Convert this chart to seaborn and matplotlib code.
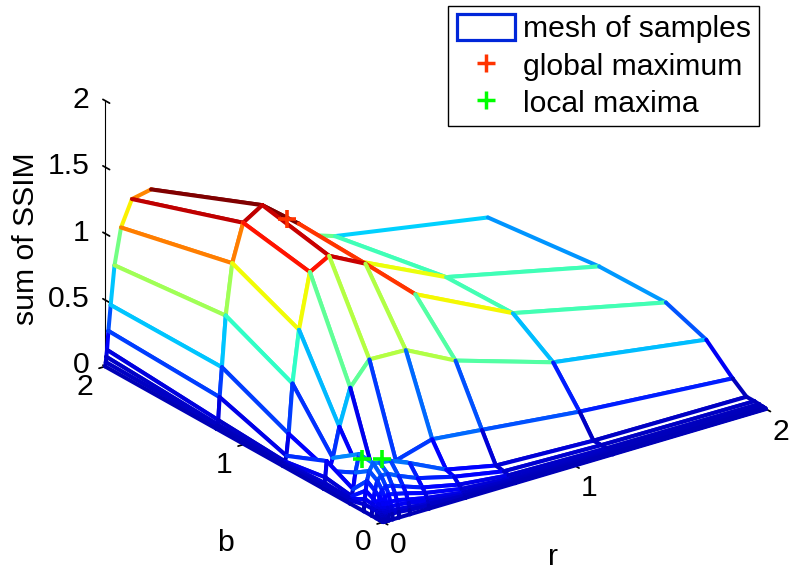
import numpy as np
import matplotlib
matplotlib.use('Agg')
import matplotlib.pyplot as plt
from matplotlib.lines import Line2D
from matplotlib.patches import Patch
from mpl_toolkits.mplot3d.art3d import Poly3DCollection
import seaborn as sns

# sample grid (same for r and b)
r_values = [0, .0035, .006, .01, .017, .029, .049, .083, .14, .24, .43, .69, 1.2, 2]
b_values = [0, .0035, .006, .01, .017, .029, .049, .083, .14, .24, .43, .72, 1.2, 2]

# sum of SSIM, one row per b value
z_b0000 = [0, 0, 0, 0, 0, 0, 0, 0, 0, 0, 0, 0, 0, 0]
z_b0035 = [0, .01, .02, .03, .035, .04, .04, .04, .03, .02, .008, .003, .002, .001]
z_b0060 = [0, .02, .03, .04, .05, .06, .06, .06, .05, .03, .012, .006, .003, .002]
z_b0100 = [0, .03, .04, .06, .07, .09, .09, .09, .08, .05, .02, .01, .005, .003]
z_b0170 = [0, .04, .05, .07, .09, .12, .12, .12, .10, .07, .03, .015, .008, .004]
z_b0290 = [0, .05, .06, .08, .12, .16, .17, .16, .14, .10, .05, .02, .01, .005]
z_b0490 = [0, .05, .07, .10, .15, .20, .22, .21, .18, .13, .07, .03, .015, .008]
z_b0830 = [0, .05, .08, .12, .18, .25, .28, .28, .24, .18, .11, .04, .02, .01]
z_b1400 = [0, .05, .09, .15, .22, .29, .34, .33, .32, .26, .13, .05, .02, .01]
z_b2400 = [0, .02, .03, .05, .10, .22, .35, .10, .08, .22, .30, .26, .18, .09]
z_b4300 = [0, .02, .04, .08, .20, .12, .21, .43, .70, .87, .86, .67, .44, .27]
z_b6900 = [0, .01, .02, .03, .07, .23, .60, .99, 1.40, 1.48, 1.34, 1.0, .64, .38]
z_b1180 = [0, .02, .03, .06, .23, .45, .83, 1.21, 1.49, 1.58, 1.36, .98, .63, .37]
z_b2000 = [0, .03, .07, .12, .26, .45, .74, 1.01, 1.20, 1.23, 1.05, .72, .47, .27]

# maxima found
global_r = [.24]
global_b = [1.02]
global_z = [1.58]
local_r = [.029, .083]
local_b = [.19, .12]
local_z = [.35, .37]

r_ticks = [0, 1, 2]
b_ticks = [0, 1, 2]
z_ticks = [0, .5, 1, 1.5, 2]
z_tick_labels = ['0', '0.5', '1', '1.5', '2']

sns.set_theme(style='white', rc={'text.color': 'black', 'axes.labelcolor': 'black',
                                 'xtick.color': 'black', 'ytick.color': 'black'})
plt.rcParams['font.family'] = ['Liberation Sans', 'DejaVu Sans']
fs = 21.7

zz = np.array([z_b0000, z_b0035, z_b0060, z_b0100, z_b0170, z_b0290, z_b0490,
               z_b0830, z_b1400, z_b2400, z_b4300, z_b6900, z_b1180, z_b2000])
jet = sns.mpl_palette('jet', 256)
zmax = 1.58


def z_color(z):
    return jet[min(int((z + .08) / (zmax + .08) * 255), 255)]


fig = plt.figure(figsize=(7.93, 5.71), dpi=100)
ax = fig.add_axes([-26.6 / 793, -146 / 571, 900 / 793, 900 / 571], projection='3d',
                  proj_type='ortho', computed_zorder=False)
ax.view_init(elev=24, azim=-126)
ax.set_box_aspect((1, 1, .615), zoom=.787)
ax.set_xlim(0, 2, view_margin=0)
ax.set_ylim(0, 2, view_margin=0)
ax.set_zlim(0, 2, view_margin=0)
ax.grid(False)
for axis in (ax.xaxis, ax.yaxis, ax.zaxis):
    axis.pane.set_visible(False)
    axis.line.set_color('black')
    axis.line.set_linewidth(.8)

ax.set_xticks(r_ticks)
ax.set_yticks(b_ticks)
ax.set_zticks(z_ticks)
ax.set_zticklabels(z_tick_labels)
# z ticks point along b, as in the original view
ax.zaxis._get_tickdir = lambda pos: 1
ax.tick_params(labelsize=fs, colors='black')
ax.tick_params(axis='x', pad=10)
ax.tick_params(axis='y', pad=10)
ax.tick_params(axis='z', pad=0)
for label in ax.get_xticklabels() + ax.get_yticklabels():
    label.set_va('center')
for label in ax.get_zticklabels():
    label.set_ha('right')
    label.set_va('center')

ax.text2D(225 / 793, 1 - 543 / 571, 'b', transform=fig.transFigure, fontsize=fs,
          ha='center', va='center')
ax.text2D(553 / 793, 1 - 557 / 571, 'r', transform=fig.transFigure, fontsize=fs,
          ha='center', va='center')
ax.text2D(26 / 793, 1 - 239 / 571, 'sum of SSIM', transform=fig.transFigure, fontsize=fs,
          rotation=90, ha='center', va='center')

# mesh with hidden lines: paint the cells from the far corner to the near one
lw = 2.9
order = 10
for i in range(len(r_values) - 2, -1, -1):
    for j in range(len(b_values) - 2, -1, -1):
        r0, r1 = r_values[i], r_values[i + 1]
        b0, b1 = b_values[j], b_values[j + 1]
        cell = [[(r0, b0, zz[j, i]), (r1, b0, zz[j, i + 1]),
                 (r1, b1, zz[j + 1, i + 1]), (r0, b1, zz[j + 1, i])]]
        poly = Poly3DCollection(cell, facecolors='white', edgecolors='none', zorder=order)
        ax.add_collection3d(poly, autolim=False)
        order += 1
        edges = [([r0, r1], [b1, b1], [zz[j + 1, i], zz[j + 1, i + 1]], zz[j + 1, i]),
                 ([r1, r1], [b0, b1], [zz[j, i + 1], zz[j + 1, i + 1]], zz[j, i + 1]),
                 ([r0, r1], [b0, b0], [zz[j, i], zz[j, i + 1]], zz[j, i]),
                 ([r0, r0], [b0, b1], [zz[j, i], zz[j + 1, i]], zz[j, i])]
        for xs, ys, zs, c in edges:
            ax.plot(xs, ys, zs, color=z_color(c), lw=lw, zorder=order,
                    solid_capstyle='round', solid_joinstyle='round')
            order += 1

ax.plot(global_r, global_b, global_z, ls='none', marker='+', ms=13, mew=2.6,
        color=(1, .2, 0), zorder=order)
ax.plot(local_r, local_b, local_z, ls='none', marker='+', ms=13, mew=2.6,
        color=(0, 1, 0), zorder=order + 1)

handles = [Patch(facecolor='none', edgecolor=(0, .15, .85), lw=2.3, joinstyle='round', label='mesh of samples'),
           Line2D([], [], ls='none', marker='+', ms=13, mew=2.5, color=(1, .2, 0), label='global maximum'),
           Line2D([], [], ls='none', marker='+', ms=13, mew=2.5, color=(0, 1, 0), label='local maxima')]
fig.legend(handles=handles, loc='upper right', bbox_to_anchor=(759 / 793, 1 - 6 / 571),
           fontsize=fs, frameon=True, fancybox=False, framealpha=1, edgecolor='black',
           handlelength=1.93, handleheight=.93, handletextpad=.27, labelspacing=.27,
           borderpad=.27, borderaxespad=0)

fig.savefig('out.png', dpi=100)
